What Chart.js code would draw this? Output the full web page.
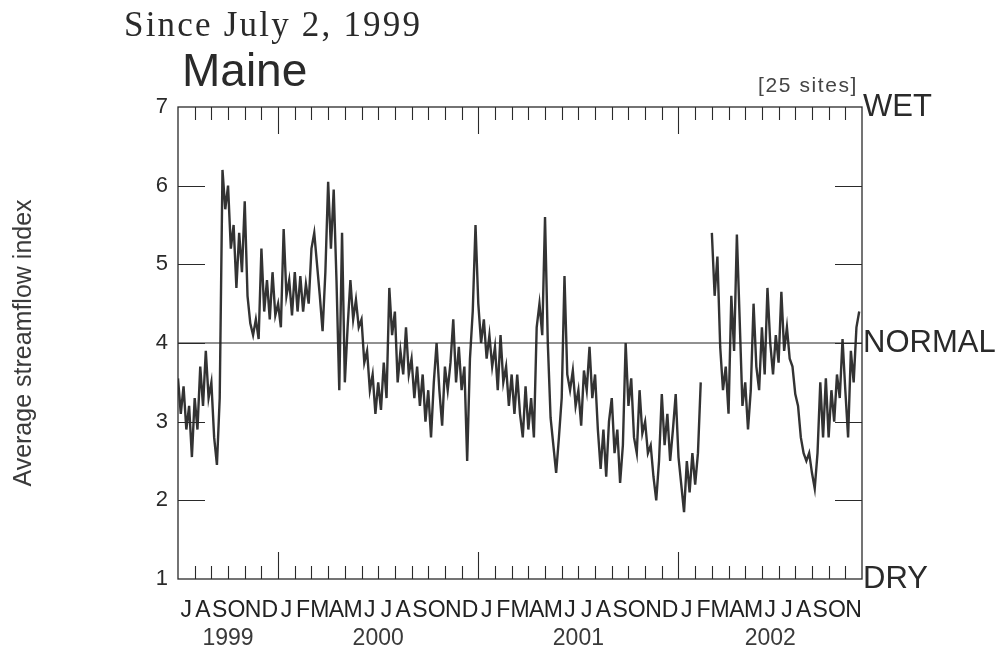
<!DOCTYPE html>
<html>
<head>
<meta charset="utf-8">
<title>Maine streamflow index</title>
<script src="https://cdn.jsdelivr.net/npm/chart.js@4.4.1/dist/chart.umd.min.js"></script>
<style>
    html, body { margin: 0; padding: 0; background: #ffffff; }
    #wrap { position: relative; width: 1002px; height: 649px; overflow: hidden; }
    #chart { position: absolute; left: 0; top: 0; }
    .txt { position: absolute; white-space: nowrap; line-height: 1; color: #2a2a2a; }
    #since { left: 124px; top: 7px; font-family: "Liberation Serif", "DejaVu Serif", serif; font-size: 35px; letter-spacing: 2.2px; }
    #state { left: 182px; top: 47px; font-family: "Liberation Sans", Arial, sans-serif; font-size: 46px; }
    #sites { right: 144px; top: 74px; font-family: "Liberation Sans", Arial, sans-serif; font-size: 21px; letter-spacing: 1.6px; color: #444; }
</style>
</head>
<body>
<div id="wrap">
    <canvas id="chart" width="1002" height="649"></canvas>
    <div class="txt" id="since">Since July 2, 1999</div>
    <div class="txt" id="state">Maine</div>
    <div class="txt" id="sites">[25 sites]</div>
</div>
<script>
// === DATI (un valore ogni 1/6 di mese) ===
// mesi contati da luglio 1999 (0) a fine novembre 2002 (41)
const idx1999 = [
    3.55, 3.1, 3.45, 2.9, 3.2, 2.55, 3.3, 2.9, 3.7, 3.2, 3.9, 3.3,
    3.5, 2.8, 2.45, 3.3, 6.2, 5.7, 6.0, 5.2, 5.5, 4.7, 5.4, 4.9,
    5.8, 4.6, 4.25, 4.1, 4.3, 4.05, 5.2, 4.4, 4.8, 4.3, 4.9, 4.35
];
const idx2000 = [
    4.5, 4.2, 5.45, 4.6, 4.8, 4.35, 4.9, 4.4, 4.85, 4.4, 4.75, 4.5,
    5.2, 5.4, 5.0, 4.6, 4.15, 4.9, 6.05, 5.2, 5.95, 4.8, 3.4, 5.4,
    3.5, 4.2, 4.8, 4.3, 4.55, 4.2, 4.3, 3.75, 3.9, 3.4, 3.6, 3.1,
    3.5, 3.15, 3.75, 3.3, 4.7, 4.1, 4.4, 3.5, 3.9, 3.6, 4.2, 3.6,
    3.8, 3.3, 3.7, 3.2, 3.6, 3.0, 3.4, 2.8, 3.5, 4.0, 3.4, 2.95,
    3.7, 3.4, 3.75, 4.3, 3.5, 3.95, 3.4, 3.7, 2.5, 3.8, 4.4, 5.5
];
const idx2001 = [
    4.5, 4.0, 4.3, 3.8, 4.1, 3.7, 3.95, 3.4, 4.1, 3.5, 3.7, 3.2,
    3.6, 3.1, 3.6, 3.1, 2.8, 3.45, 2.9, 3.3, 2.8, 4.2, 4.5, 4.1,
    5.6, 4.0, 3.05, 2.7, 2.35, 2.8, 3.3, 4.85, 3.6, 3.4, 3.65, 3.2,
    3.4, 2.95, 3.65, 3.4, 3.95, 3.3, 3.6, 2.9, 2.4, 2.9, 2.3, 3.0,
    3.3, 2.6, 2.9, 2.22, 2.7, 4.0, 3.2, 3.55, 2.8, 2.6, 3.4, 2.85,
    3.0, 2.6, 2.7, 2.3, 2.0, 2.5, 3.35, 2.7, 3.1, 2.5, 2.9, 3.35
];
const idx2002 = [
    2.55, 2.2, 1.85, 2.5, 2.1, 2.6, 2.2, 2.6, 3.5, null, null, null,
    5.4, 4.6, 5.1, 3.95, 3.4, 3.7, 3.1, 4.6, 3.9, 5.38, 4.3, 3.2,
    3.5, 2.9, 3.4, 4.5, 3.7, 3.4, 4.2, 3.6, 4.7, 4.0, 3.6, 4.1,
    3.75, 4.65, 3.9, 4.2, 3.8, 3.7, 3.35, 3.2, 2.8, 2.6, 2.5, 2.6,
    2.35, 2.15, 2.6, 3.5, 2.8, 3.55, 2.8, 3.4, 3.0, 3.6, 3.3, 4.05,
    3.4, 2.8, 3.9, 3.5, 4.2, 4.4
];
const yearStarts = [0, 6, 18, 30];           // mese d'inizio di ogni serie
const yearBoundaries = [6, 18, 30];           // tacche lunghe (1 gennaio)

// === ETICHETTE ===
const monthLabels = [
    "J", "A", "S", "O", "N", "D",
    "J", "F", "M", "A", "M", "J", "J", "A", "S", "O", "N", "D",
    "J", "F", "M", "A", "M", "J", "J", "A", "S", "O", "N", "D",
    "J", "F", "M", "A", "M", "J", "J", "A", "S", "O", "N"
];
const yearLabels = ["1999", "2000", "2001", "2002"];
const yearCenters = [3, 12, 24, 35.5];
const rightLabels = { 7: "WET", 4: "NORMAL", 1: "DRY" };
const NORMAL_LEVEL = 4;

const FONT = "'Liberation Sans', Arial, sans-serif";
const INK = "#2a2a2a";

// costruisce i punti {x, y} dalle serie annuali
function buildPoints() {
    const series = [idx1999, idx2000, idx2001, idx2002];
    const pts = [];
    series.forEach((vals, s) => {
        vals.forEach((v, k) => {
            pts.push({ x: yearStarts[s] + k / 6, y: v });
        });
    });
    return pts;
}

const monthCenters = monthLabels.map((m, i) => i + 0.5);

// === CORNICE E TACCHE INTERNE ===
const framePlugin = {
    id: "frame",
    afterDatasetsDraw(chart) {
        const { ctx, chartArea: a, scales } = chart;
        const xs = scales.x, ys = scales.y;
        ctx.save();
        ctx.strokeStyle = INK;
        ctx.lineWidth = 1.3;
        ctx.strokeRect(a.left, a.top, a.right - a.left, a.bottom - a.top);
        ctx.lineWidth = 1.1;
        ctx.beginPath();
        for (let i = 1; i < monthLabels.length; i++) {
            const px = Math.round(xs.getPixelForValue(i)) + 0.5;
            const len = yearBoundaries.includes(i) ? 27 : 13;
            ctx.moveTo(px, a.top); ctx.lineTo(px, a.top + len);
            ctx.moveTo(px, a.bottom); ctx.lineTo(px, a.bottom - len);
        }
        for (let v = 2; v <= 6; v++) {
            const py = Math.round(ys.getPixelForValue(v)) + 0.5;
            ctx.moveTo(a.left, py); ctx.lineTo(a.left + 27, py);
            ctx.moveTo(a.right, py); ctx.lineTo(a.right - 27, py);
        }
        ctx.stroke();
        ctx.restore();
    }
};

new Chart(document.getElementById("chart"), {
    type: "line",
    data: {
        datasets: [
            {
                label: "normal",
                data: [{ x: 0, y: NORMAL_LEVEL }, { x: monthLabels.length, y: NORMAL_LEVEL }],
                borderColor: "#222222",
                borderWidth: 1,
                pointRadius: 0
            },
            {
                label: "Average streamflow index",
                data: buildPoints(),
                borderColor: "#333333",
                borderWidth: 2.4,
                pointRadius: 0,
                tension: 0,
                spanGaps: false
            }
        ]
    },
    options: {
        responsive: false,
        animation: false,
        layout: { padding: { top: 107, left: 0, right: 0, bottom: 0 } },
        plugins: { legend: { display: false }, tooltip: { enabled: false } },
        scales: {
            x: {
                type: "linear",
                position: "bottom",
                weight: 0,
                min: 0,
                max: monthLabels.length,
                grid: { display: false, drawTicks: false },
                border: { display: false },
                afterBuildTicks: (axis) => { axis.ticks = monthCenters.map(v => ({ value: v })); },
                afterFit: (axis) => { axis.height = 44; },
                ticks: {
                    autoSkip: false,
                    maxRotation: 0,
                    padding: 18,
                    color: "#222222",
                    font: { family: FONT, size: 23 },
                    callback: (value, index) => monthLabels[index]
                }
            },
            xYear: {
                type: "linear",
                position: "bottom",
                weight: 1,
                min: 0,
                max: monthLabels.length,
                grid: { display: false, drawTicks: false },
                border: { display: false },
                afterBuildTicks: (axis) => { axis.ticks = yearCenters.map(v => ({ value: v })); },
                afterFit: (axis) => { axis.height = 26; },
                ticks: {
                    autoSkip: false,
                    maxRotation: 0,
                    padding: 2,
                    color: "#3a3a3a",
                    font: { family: FONT, size: 23 },
                    callback: (value, index) => yearLabels[index]
                }
            },
            y: {
                type: "linear",
                position: "left",
                min: 1,
                max: 7,
                grid: { display: false, drawTicks: false },
                border: { display: false },
                afterFit: (axis) => { axis.width = 178; },
                ticks: {
                    stepSize: 1,
                    padding: 10,
                    color: INK,
                    font: { family: FONT, size: 22 }
                },
                title: {
                    display: true,
                    text: "Average streamflow index",
                    color: "#3a3a3a",
                    font: { family: FONT, size: 25 },
                    padding: { top: 9, bottom: 0 }
                }
            },
            yRight: {
                type: "linear",
                position: "right",
                min: 1,
                max: 7,
                grid: { display: false, drawTicks: false },
                border: { display: false },
                afterFit: (axis) => { axis.width = 140; },
                ticks: {
                    stepSize: 1,
                    padding: 1,
                    color: INK,
                    font: { family: FONT, size: 31 },
                    callback: (value) => rightLabels[value] || ""
                }
            }
        }
    },
    plugins: [framePlugin]
});
</script>
</body>
</html>
